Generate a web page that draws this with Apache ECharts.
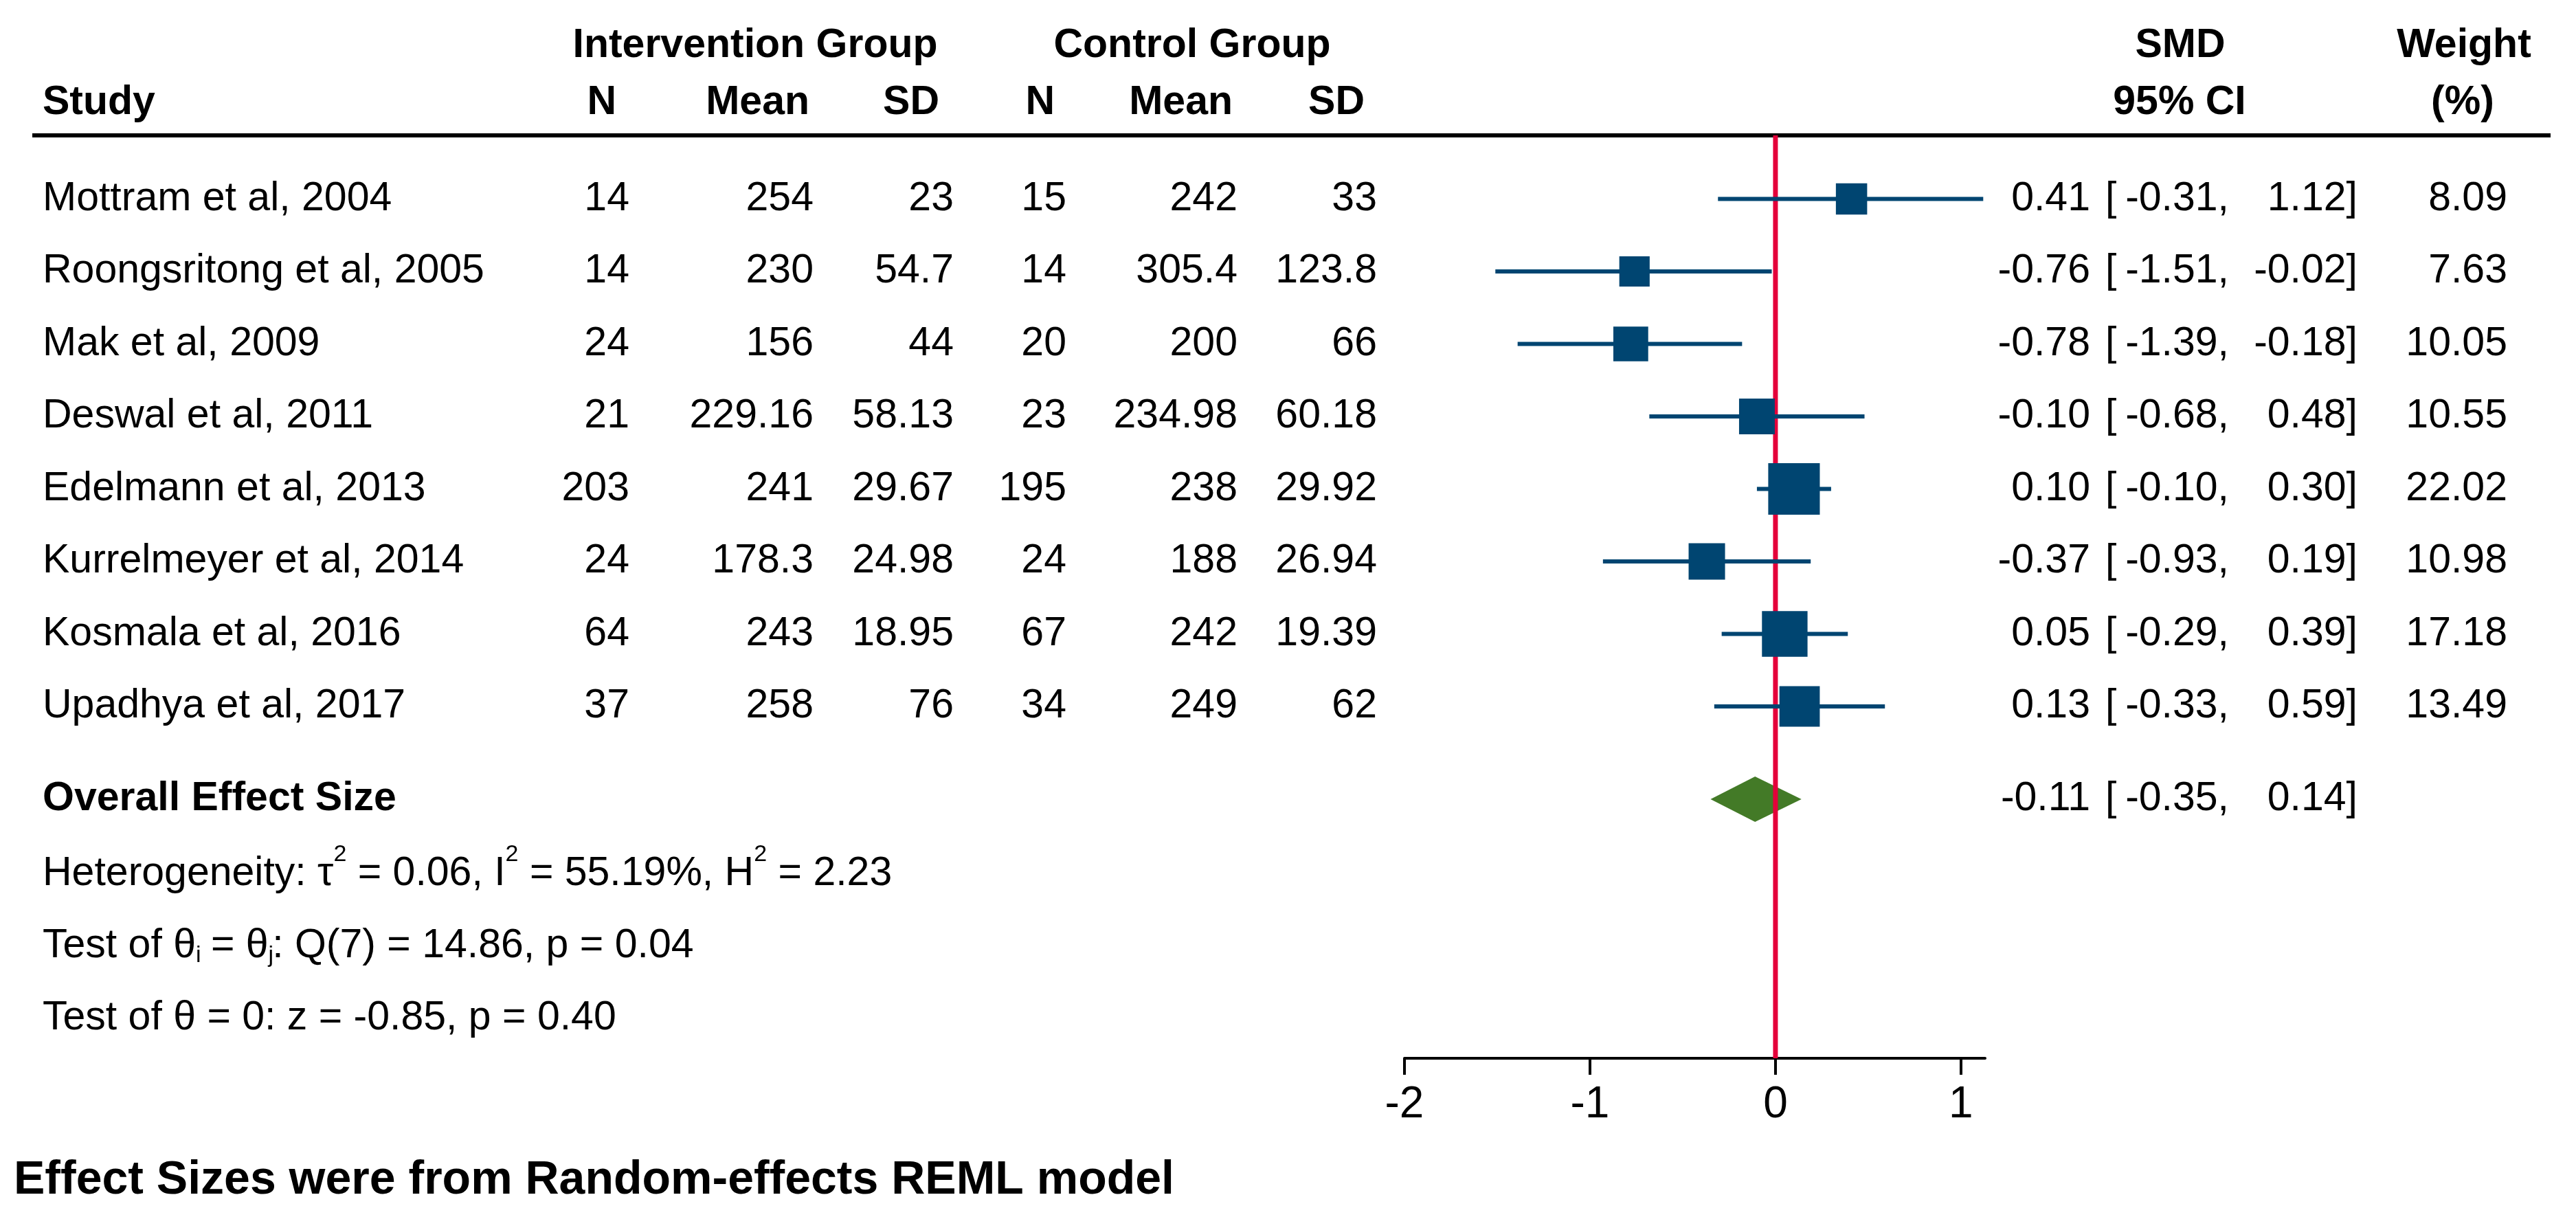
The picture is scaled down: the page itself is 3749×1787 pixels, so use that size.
<!DOCTYPE html>
<html>
<head>
<meta charset="utf-8">
<title>Forest plot - SMD</title>
<script src="https://cdn.jsdelivr.net/npm/echarts@6/dist/echarts.min.js"></script>
<style>
    html, body { margin: 0; padding: 0; background: #fff; }
    #chart { width: 3749px; height: 1787px; }
</style>
</head>
<body>
<div id="chart"></div>
<script>
"use strict";

// ---- data ----
var studies = ["Mottram et al, 2004", "Roongsritong et al, 2005", "Mak et al, 2009", "Deswal et al, 2011",
    "Edelmann et al, 2013", "Kurrelmeyer et al, 2014", "Kosmala et al, 2016", "Upadhya et al, 2017"];
var intN    = [14, 14, 24, 21, 203, 24, 64, 37];
var intMean = [254, 230, 156, 229.16, 241, 178.3, 243, 258];
var intSD   = [23, 54.7, 44, 58.13, 29.67, 24.98, 18.95, 76];
var ctlN    = [15, 14, 20, 23, 195, 24, 67, 34];
var ctlMean = [242, 305.4, 200, 234.98, 238, 188, 242, 249];
var ctlSD   = [33, 123.8, 66, 60.18, 29.92, 26.94, 19.39, 62];
var smd     = [0.41, -0.76, -0.78, -0.10, 0.10, -0.37, 0.05, 0.13];
var ciLow   = [-0.31, -1.51, -1.39, -0.68, -0.10, -0.93, -0.29, -0.33];
var ciHigh  = [1.12, -0.02, -0.18, 0.48, 0.30, 0.19, 0.39, 0.59];
var weight  = [8.09, 7.63, 10.05, 10.55, 22.02, 10.98, 17.18, 13.49];

var overallSmd = -0.11;
var overallLow = -0.35;
var overallHigh = 0.14;

var xTicks = [-2, -1, 0, 1];

// text pieces: "" = normal, "sup" = superscript, "sub" = subscript
var statLines = [
    [["Heterogeneity: \u03c4", ""], ["2", "sup"], [" = 0.06, I", ""], ["2", "sup"], [" = 55.19%, H", ""], ["2", "sup"], [" = 2.23", ""]],
    [["Test of \u03b8", ""], ["i", "sub"], [" = \u03b8", ""], ["j", "sub"], [": Q(7) = 14.86, p = 0.04", ""]],
    [["Test of \u03b8 = 0: z = -0.85, p = 0.40", ""]]
];
var footnote = "Effect Sizes were from Random-effects REML model";

// ---- layout (pixels) ----
var FONT = "Liberation Sans, Arial, Helvetica, sans-serif";
var FS = 59, FS_SMALL = 34;
var GRID_TOP = 197, GRID_BOTTOM = 1540;
var ROW1 = 289.5, ROW_GAP = 105.5;
var NAVY = "#004571", RED = "#e4003a", GREEN = "#437a27";

// row slot on the (hidden) y axis for a pixel height
function slot(px) { return 1 + (px - ROW1) / ROW_GAP; }
var Y_MIN = slot(GRID_TOP), Y_MAX = slot(GRID_BOTTOM);
var OVERALL_ROW = slot(1163);

var COL = {
    study: 62, intN: 916, intMean: 1184, intSD: 1388, ctlN: 1552, ctlMean: 1801, ctlSD: 2004,
    smd: 3042, brk: 3064, low: 3244, high: 3431, weight: 3649
};

var measureCtx = document.createElement("canvas").getContext("2d");
function textWidth(s, size) {
    measureCtx.font = size + "px " + FONT;
    return measureCtx.measureText(s).width;
}

function txt(x, y, s, align, bold, size) {
    return {
        type: "text", x: x, y: y,
        style: {
            text: s, fill: "#000", fontSize: size || FS, fontFamily: FONT,
            fontWeight: bold ? "bold" : "normal",
            align: align || "left", verticalAlign: "middle"
        }
    };
}

function ciTexts(y, m, lo, hi) {
    return [
        txt(COL.smd, y, m.toFixed(2), "right"),
        txt(COL.brk, y, "[", "left"),
        txt(COL.low, y, lo.toFixed(2) + ",", "right"),
        txt(COL.high, y, hi.toFixed(2) + "]", "right")
    ];
}

// one statistics line, small pieces raised or lowered
function statText(x, y, pieces) {
    var out = [];
    pieces.forEach(function (p) {
        var small = p[1] !== "";
        var size = small ? FS_SMALL : FS;
        var dy = p[1] === "sup" ? -28 : (p[1] === "sub" ? 14 : 0);
        out.push(txt(x, y + dy, p[0], "left", false, size));
        x += textWidth(p[0], size) + (p[1] === "sub" ? -2 : 0);
    });
    return out;
}

var studyData = studies.map(function (s, i) {
    return [smd[i], i + 1, ciLow[i], ciHigh[i], weight[i]];
});

var chart = echarts.init(document.getElementById("chart"));

var option = {
    animation: false,
    backgroundColor: "#fff",
    grid: { left: 2044, right: 3749 - 2889, top: GRID_TOP, bottom: 1787 - GRID_BOTTOM },
    xAxis: {
        type: "value", min: -2, max: 1.13, interval: 1,
        axisLine: { show: true, lineStyle: { color: "#000", width: 4 } },
        axisTick: { show: true, length: 24, lineStyle: { color: "#000", width: 4 }, customValues: xTicks },
        axisLabel: {
            fontSize: 64, fontFamily: FONT, color: "#000", margin: 36, customValues: xTicks,
            formatter: function (v) { return String(v); }
        },
        splitLine: { show: false }
    },
    yAxis: { type: "value", inverse: true, min: Y_MIN, max: Y_MAX, show: false },
    graphic: [
        { type: "line", shape: { x1: 47, y1: GRID_TOP, x2: 3712, y2: GRID_TOP }, style: { stroke: "#000", lineWidth: 6 } },
        txt(1099, 67, "Intervention Group", "center", true),
        txt(1735, 67, "Control Group", "center", true),
        txt(3173, 67, "SMD", "center", true),
        txt(3586, 67, "Weight", "center", true),
        txt(COL.study, 150, "Study", "left", true),
        txt(897, 150, "N", "right", true),
        txt(1178, 150, "Mean", "right", true),
        txt(1367, 150, "SD", "right", true),
        txt(1535, 150, "N", "right", true),
        txt(1794, 150, "Mean", "right", true),
        txt(1986, 150, "SD", "right", true),
        txt(3172, 150, "95% CI", "center", true),
        txt(3584, 150, "(%)", "center", true),
        txt(20, 1718, footnote, "left", true, 68)
    ],
    series: [
        {
            // overall effect diamond
            type: "custom", z: 1,
            data: [[overallSmd, OVERALL_ROW, overallLow, overallHigh]],
            encode: { x: [0, 2, 3], y: 1 },
            renderItem: function (params, api) {
                var c = api.coord([api.value(0), api.value(1)]);
                var l = api.coord([api.value(2), api.value(1)]);
                var r = api.coord([api.value(3), api.value(1)]);
                var h = 33;
                return {
                    type: "polygon",
                    shape: { points: [[l[0], c[1]], [c[0], c[1] - h], [r[0], c[1]], [c[0], c[1] + h]] },
                    style: { fill: GREEN }
                };
            }
        },
        {
            // line of no effect
            type: "custom", z: 2,
            data: [[0, Y_MIN]],
            renderItem: function (params, api) {
                var a = api.coord([0, Y_MIN]);
                var b = api.coord([0, Y_MAX]);
                return {
                    type: "line",
                    shape: { x1: a[0], y1: a[1], x2: b[0], y2: b[1] },
                    style: { stroke: RED, lineWidth: 7 }
                };
            }
        },
        {
            // study CIs and weight-scaled squares
            type: "custom", z: 3,
            data: studyData,
            encode: { x: [0, 2, 3], y: 1 },
            renderItem: function (params, api) {
                var row = api.value(1);
                var c = api.coord([api.value(0), row]);
                var l = api.coord([api.value(2), row]);
                var r = api.coord([api.value(3), row]);
                var side = 16 * Math.sqrt(api.value(4));
                return {
                    type: "group",
                    children: [
                        { type: "line", shape: { x1: l[0], y1: c[1], x2: r[0], y2: c[1] }, style: { stroke: NAVY, lineWidth: 6 } },
                        { type: "rect", shape: { x: c[0] - side / 2, y: c[1] - side / 2, width: side, height: side }, style: { fill: NAVY } }
                    ]
                };
            }
        },
        {
            // table text for each study row
            type: "custom", z: 4,
            data: studyData,
            encode: { x: 0, y: 1 },
            renderItem: function (params, api) {
                var i = params.dataIndex;
                var y = api.coord([0, i + 1])[1];
                var kids = [
                    txt(COL.study, y, studies[i], "left"),
                    txt(COL.intN, y, String(intN[i]), "right"),
                    txt(COL.intMean, y, String(intMean[i]), "right"),
                    txt(COL.intSD, y, String(intSD[i]), "right"),
                    txt(COL.ctlN, y, String(ctlN[i]), "right"),
                    txt(COL.ctlMean, y, String(ctlMean[i]), "right"),
                    txt(COL.ctlSD, y, String(ctlSD[i]), "right"),
                    txt(COL.weight, y, weight[i].toFixed(2), "right")
                ].concat(ciTexts(y, smd[i], ciLow[i], ciHigh[i]));
                return { type: "group", children: kids };
            }
        },
        {
            // overall row text and heterogeneity statistics
            type: "custom", z: 4,
            data: [[overallSmd, OVERALL_ROW]],
            encode: { x: 0, y: 1 },
            renderItem: function (params, api) {
                var y = api.coord([0, OVERALL_ROW])[1];
                var kids = [txt(COL.study, y, "Overall Effect Size", "left", true)]
                    .concat(ciTexts(y, overallSmd, overallLow, overallHigh));
                statLines.forEach(function (pieces, k) {
                    var ys = api.coord([0, slot(1272 + k * 105)])[1];
                    kids = kids.concat(statText(COL.study, ys, pieces));
                });
                return { type: "group", children: kids };
            }
        }
    ]
};

chart.setOption(option);
</script>
</body>
</html>
